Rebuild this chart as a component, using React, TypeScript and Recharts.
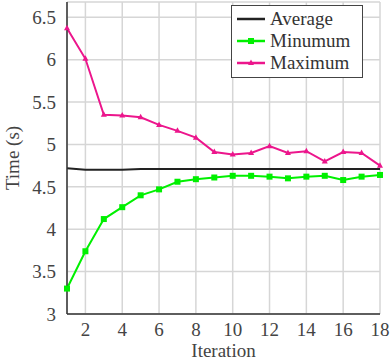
import React from 'react';
import { LineChart, Line, XAxis, YAxis, CartesianGrid, Legend } from 'recharts';

const iterations = [1, 2, 3, 4, 5, 6, 7, 8, 9, 10, 11, 12, 13, 14, 15, 16, 17, 18];
const average = [4.72, 4.7, 4.7, 4.7, 4.71, 4.71, 4.71, 4.71, 4.71, 4.71, 4.71, 4.71, 4.71, 4.71, 4.71, 4.71, 4.71, 4.71];
const minimum = [3.3, 3.74, 4.12, 4.26, 4.4, 4.47, 4.56, 4.59, 4.61, 4.63, 4.63, 4.62, 4.6, 4.62, 4.63, 4.58, 4.62, 4.64];
const maximum = [6.37, 6.01, 5.35, 5.34, 5.32, 5.23, 5.16, 5.08, 4.91, 4.88, 4.9, 4.98, 4.9, 4.92, 4.8, 4.91, 4.9, 4.75];
const xTicks = [2, 4, 6, 8, 10, 12, 14, 16, 18];
const yTicks = [3, 3.5, 4, 4.5, 5, 5.5, 6, 6.5];

const FONT = 'Times New Roman, Liberation Serif, DejaVu Serif, serif';
const GREEN = '#00f000';
const PINK = '#ec168c';
const BLACK = '#222222';

const data = iterations.map((it, i) => ({
    it,
    Average: average[i],
    Minumum: minimum[i],
    Maximum: maximum[i],
}));

const SquareDot = (props: any) => {
    const { cx, cy } = props;
    if (cx == null || cy == null) return null;
    return <rect x={cx - 3} y={cy - 3} width={6} height={6} fill={GREEN} />;
};

const TriDot = (props: any) => {
    const { cx, cy } = props;
    if (cx == null || cy == null) return null;
    return <polygon points={`${cx},${cy - 3.5} ${cx - 3},${cy + 2} ${cx + 3},${cy + 2}`} fill={PINK} />;
};

const legendRows = [
    { name: 'Average', color: BLACK, marker: 'none' },
    { name: 'Minumum', color: GREEN, marker: 'square' },
    { name: 'Maximum', color: PINK, marker: 'tri' },
];

const LegendBox = () => (
    <div
        style={{
            background: '#fff',
            border: '1.5px solid #444',
            width: 132,
            height: 73,
            boxSizing: 'border-box',
            fontFamily: FONT,
            fontSize: 19,
            padding: '2px 0 0 5px',
        }}
    >
        {legendRows.map(r => (
            <div key={r.name} style={{ display: 'flex', alignItems: 'center', height: 22, lineHeight: '22px' }}>
                <svg width={28} height={10} style={{ marginRight: 5 }}>
                    <line x1={0} y1={5} x2={28} y2={5} stroke={r.color} strokeWidth={2.5} />
                    {r.marker === 'square' && <rect x={11} y={2} width={6} height={6} fill={r.color} />}
                    {r.marker === 'tri' && <polygon points="14,1.5 11,7 17,7" fill={r.color} />}
                </svg>
                <span style={{ color: '#333' }}>{r.name}</span>
            </div>
        ))}
    </div>
);

const App: React.FC = () => {
    const tickStyle = { fill: '#444', fontFamily: FONT, fontSize: 19 };
    return (
        <div style={{ position: 'absolute', left: 0, top: 0 }}>
            <LineChart width={390} height={361} data={data} margin={{ top: 2, right: 10, left: 0, bottom: 0 }}>
                <CartesianGrid stroke="#d6d6d6" strokeWidth={1.5} />
                <XAxis
                    dataKey="it"
                    type="number"
                    domain={[1, 18]}
                    ticks={xTicks}
                    height={47}
                    tickLine={false}
                    axisLine={{ stroke: '#333', strokeWidth: 1.5 }}
                    tick={tickStyle}
                    tickMargin={3}
                    label={{ value: 'Iteration', position: 'insideBottom', offset: 4, style: { fill: '#444', fontFamily: FONT, fontSize: 19 } }}
                />
                <XAxis xAxisId="top" orientation="top" dataKey="it" type="number" domain={[1, 18]} height={0} tick={false} tickLine={false} axisLine={{ stroke: '#333', strokeWidth: 1.5 }} />
                <YAxis
                    type="number"
                    domain={[3, 6.68]}
                    ticks={yTicks}
                    width={67}
                    tickLine={false}
                    axisLine={{ stroke: '#333', strokeWidth: 1.5 }}
                    tick={tickStyle}
                    tickMargin={5}
                    allowDataOverflow
                    label={{ value: 'Time (s)', angle: -90, position: 'insideLeft', offset: 12, style: { textAnchor: 'middle', fill: '#444', fontFamily: FONT, fontSize: 19 } }}
                />
                <YAxis yAxisId="right" orientation="right" type="number" domain={[3, 6.68]} width={0} tick={false} tickLine={false} axisLine={{ stroke: '#333', strokeWidth: 1.5 }} />
                <Line dataKey="Average" stroke={BLACK} strokeWidth={2} dot={false} isAnimationActive={false} />
                <Line dataKey="Minumum" stroke={GREEN} strokeWidth={2} dot={<SquareDot />} isAnimationActive={false} />
                <Line dataKey="Maximum" stroke={PINK} strokeWidth={2} dot={<TriDot />} isAnimationActive={false} />
                <Legend
                    layout="vertical"
                    align="center"
                    verticalAlign="middle"
                    content={() => <LegendBox />}
                    wrapperStyle={{ left: 231, top: 5, width: 132 }}
                />
            </LineChart>
        </div>
    );
};

export default App;
